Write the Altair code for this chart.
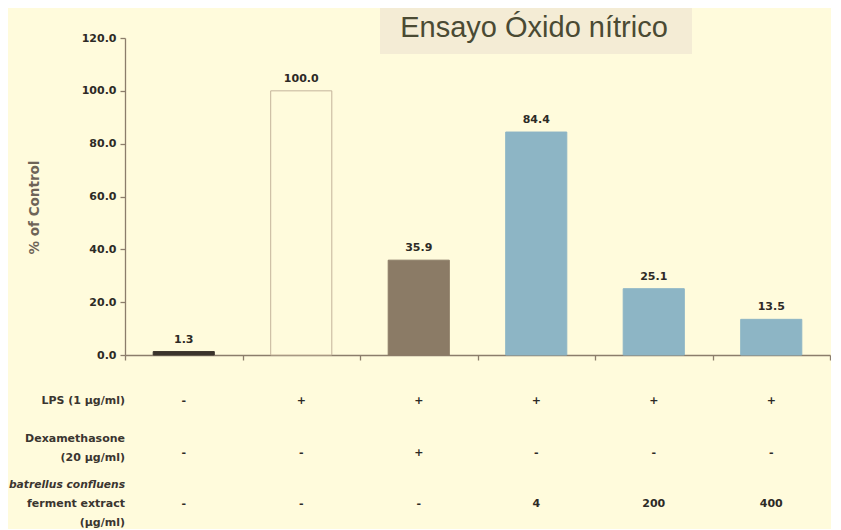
import altair as alt
import pandas as pd

# ---- data ----
groups = ["Control", "LPS", "LPS+Dexa", "LPS+Ext4", "LPS+Ext200", "LPS+Ext400"]
values = [1.3, 100.0, 35.9, 84.4, 25.1, 13.5]
value_labels = ["1.3", "100.0", "35.9", "84.4", "25.1", "13.5"]
fills = ["#3b342c", "#fffbdc", "#8b7b66", "#8db5c5", "#8db5c5", "#8db5c5"]
strokes = ["#3b342c", "#c4b39b", "#8b7b66", "#8db5c5", "#8db5c5", "#8db5c5"]

row_names = ["LPS", "Dexamethasone", "Extract"]
lps_row = ["-", "+", "+", "+", "+", "+"]
dexa_row = ["-", "-", "+", "-", "-", "-"]
extract_row = ["-", "-", "-", "4", "200", "400"]
lps_label = "LPS (1 µg/ml)"
dexa_label = "Dexamethasone\n(20 µg/ml)"
extract_label = "ferment extract\n(µg/ml)"
extract_label_italic = "batrellus confluens"

y_ticks = [0, 20, 40, 60, 80, 100, 120]
y_title = "% of Control"
title_text = "Ensayo Óxido nítrico"

BG = "#FFFBDC"
AXIS = "#8b7d6b"
TXT = "#2d2a26"
FONT = "DejaVu Sans"

bars_df = pd.DataFrame({"group": groups, "value": values, "label": value_labels})

x_enc = alt.X(
    "group:N", sort=groups,
    scale=alt.Scale(paddingInner=0, paddingOuter=0),
    axis=alt.Axis(title=None, labels=False, tickBand="extent", tickSize=5,
                  domainColor=AXIS, tickColor=AXIS, domainWidth=1.3, tickWidth=1.3),
)
y_enc = alt.Y(
    "value:Q",
    scale=alt.Scale(domain=[0, 120], nice=False),
    axis=alt.Axis(values=y_ticks, format=".1f", title=y_title, grid=False,
                  tickSize=5, labelPadding=4, domainColor=AXIS, tickColor=AXIS,
                  domainWidth=1.3, tickWidth=1.3,
                  labelFont=FONT, labelFontWeight="bold", labelFontSize=11, labelColor=TXT,
                  titleFont=FONT, titleFontWeight="bold", titleFontSize=13.5, titleColor="#6e6457",
                  titleX=-91, titleY=169, titleAlign="center", titleBaseline="middle"),
)

base = alt.Chart(bars_df)
bars = base.mark_bar(width=alt.RelativeBandSize(0.52), strokeWidth=1).encode(
    x=x_enc, y=y_enc,
    fill=alt.Fill("group:N", scale=alt.Scale(domain=groups, range=fills), legend=None),
    stroke=alt.Stroke("group:N", scale=alt.Scale(domain=groups, range=strokes), legend=None),
)
labels = base.mark_text(baseline="middle", dy=-12, font=FONT, fontWeight="bold",
                        fontSize=11, color=TXT).encode(
    x=alt.X("group:N", sort=groups), y="value:Q", text="label:N"
)

title_data = alt.Data(values=[{"t": title_text}])
title_box = alt.Chart(title_data).mark_rect(color="#F4ECD5").encode(
    x=alt.value(255), x2=alt.value(567), y=alt.value(-30), y2=alt.value(16)
)
title_mark = alt.Chart(title_data).mark_text(
    font="Liberation Sans", fontSize=29, color="#4a4a33", align="center", baseline="alphabetic"
).encode(x=alt.value(409), y=alt.value(-1), text="t:N")

top = alt.layer(title_box, bars, labels, title_mark).properties(width=705, height=317)

# ---- table under the chart ----
table_rows = []
for g, a, b, c in zip(groups, lps_row, dexa_row, extract_row):
    table_rows.append({"group": g, "row": row_names[0], "text": a})
    table_rows.append({"group": g, "row": row_names[1], "text": b})
    table_rows.append({"group": g, "row": row_names[2], "text": c})
table_df = pd.DataFrame(table_rows)

ty = alt.Y("row:N", sort=row_names, scale=alt.Scale(type="point", padding=0.3), axis=None)
tx = alt.X("group:N", sort=groups, scale=alt.Scale(paddingInner=0, paddingOuter=0), axis=None)

cells = alt.Chart(table_df).mark_text(font=FONT, fontWeight="bold", fontSize=11,
                                      color=TXT, baseline="middle").encode(
    x=tx, y=ty, text="text:N"
)

def row_label(row, txt, dy, lh, size=11, italic=False):
    return alt.Chart(alt.Data(values=[{"row": row, "t": txt}])).mark_text(
        font=FONT, fontWeight="bold", fontSize=size, color="#3a3530", align="right",
        baseline="middle", dy=dy, lineBreak="\n", lineHeight=lh,
        fontStyle="italic" if italic else "normal",
    ).encode(x=alt.value(0), y=ty, text="t:N")

lab1 = row_label(row_names[0], lps_label, 0, 19)
lab2 = row_label(row_names[1], dexa_label, -14, 19)
lab3a = row_label(row_names[2], extract_label_italic, -19, 19, size=10.7, italic=True)
lab3b = row_label(row_names[2], extract_label, 0, 19)

bottom = alt.layer(cells, lab1, lab2, lab3a, lab3b).properties(width=705, height=135)

chart = alt.vconcat(top, bottom, spacing=24).properties(
    background=BG, padding={"left": 0, "top": 0, "right": 0, "bottom": 0}
).configure_view(stroke=None)

chart.save("out.html", embed_options={"renderer": "svg", "actions": False})
